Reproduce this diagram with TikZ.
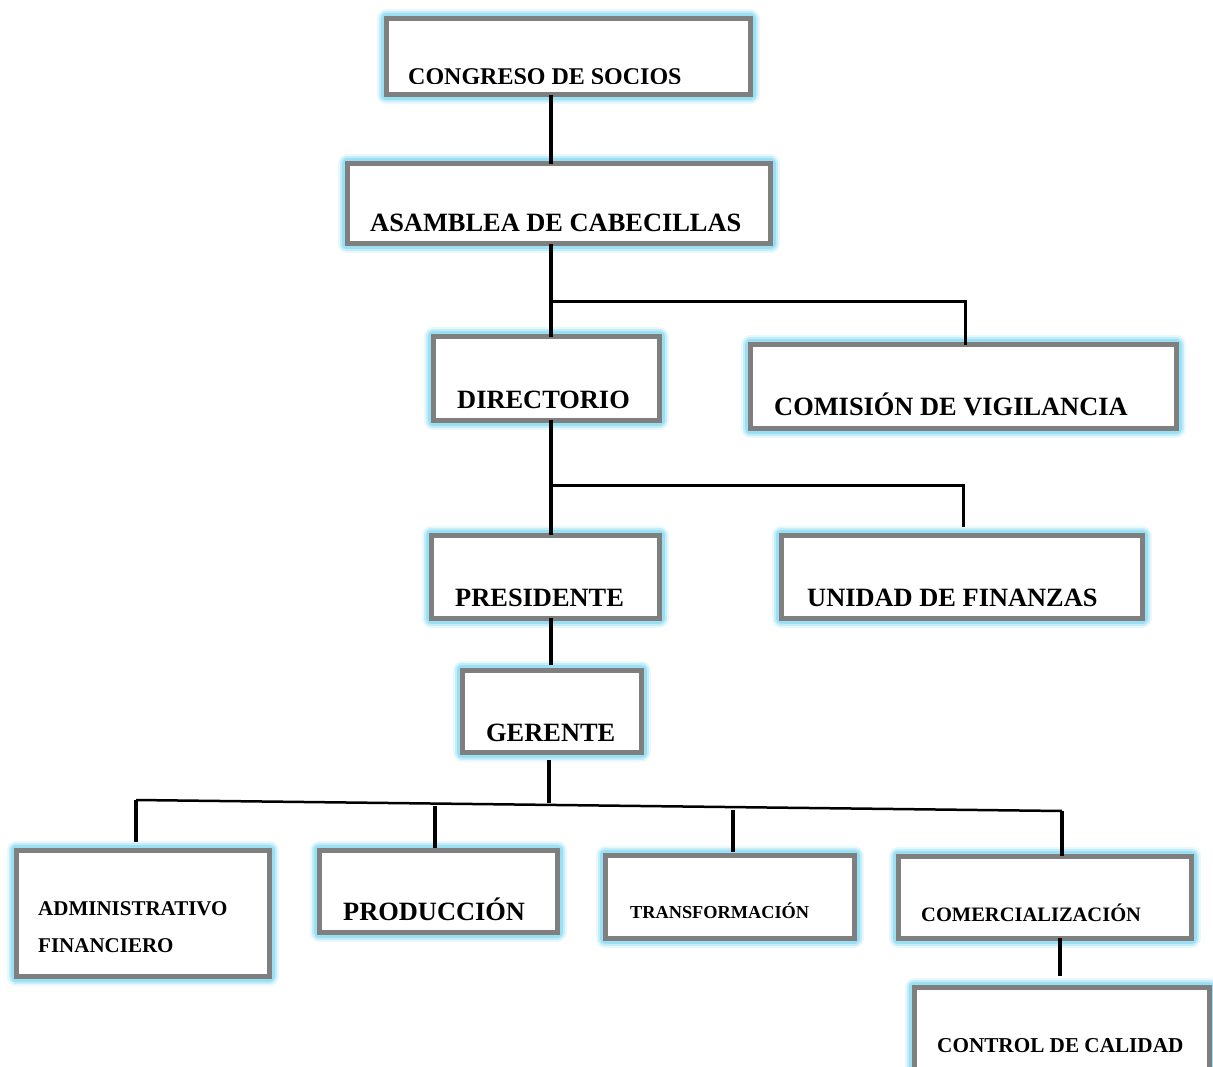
\documentclass[tikz,border=0pt]{standalone}
\usepackage{fontspec}
\setmainfont{Liberation Serif}
\usetikzlibrary{calc}
\definecolor{glowc}{HTML}{8FDDF3}
\definecolor{bordc}{HTML}{7F7F7F}
\tikzset{
  orgbox/.style={draw=bordc, line width=5pt, fill=white, rectangle, inner sep=0pt, outer sep=0pt, anchor=north west,
    preaction={draw=glowc, line width=19pt, opacity=0.2, line join=round},
    preaction={draw=glowc, line width=15pt, opacity=0.4, line join=round},
    preaction={draw=glowc, line width=11pt, opacity=0.8, line join=round}},
  lbl/.style={anchor=base west, inner sep=0pt, text=black},
  conn/.style={draw=black, line width=3.5pt},
  barline/.style={draw=black, line width=2.5pt}
}
\newcommand{\fs}[1]{\bfseries\fontsize{#1}{#1}\selectfont}
\begin{document}
\begin{tikzpicture}[x=1pt, y=-1pt]
\clip (0,0) rectangle (1213,1067);
\fill[white] (0,0) rectangle (1213,1067);
% boxes
\node[orgbox, minimum width=364pt, minimum height=76pt] (cong) at (386,19) {};
\node[orgbox, minimum width=423pt, minimum height=80pt] (asam) at (347,164) {};
\node[orgbox, minimum width=226pt, minimum height=83pt] (dir) at (433,337) {};
\node[orgbox, minimum width=426pt, minimum height=83pt] (com) at (750,345) {};
\node[orgbox, minimum width=228pt, minimum height=83pt] (pres) at (431,535) {};
\node[orgbox, minimum width=361pt, minimum height=83pt] (uni) at (781,535) {};
\node[orgbox, minimum width=179pt, minimum height=82pt] (ger) at (462,670) {};
\node[orgbox, minimum width=253pt, minimum height=126pt] (adm) at (16,850) {};
\node[orgbox, minimum width=238pt, minimum height=82pt] (prod) at (319,850) {};
\node[orgbox, minimum width=249pt, minimum height=83pt] (trans) at (605,855) {};
\node[orgbox, minimum width=293pt, minimum height=82pt] (comer) at (898,856) {};
\node[orgbox, minimum width=295pt, minimum height=95pt] (ctrl) at (914,987) {};
% labels
\begin{scope}
\clip (390,22) rectangle (746,83.5);
\node[lbl, font=\fs{24}] (cong-t) at (408,85) {CONGRESO DE SOCIOS};
\end{scope}
\node[lbl, font=\fs{26.4}] (asam-t) at (370,232) {ASAMBLEA DE CABECILLAS};
\node[lbl, font=\fs{26.4}] (dir-t) at (457,408) {DIRECTORIO};
\node[lbl, font=\fs{26.4}] (com-t) at (774,415) {COMISIÓN DE VIGILANCIA};
\node[lbl, font=\fs{26.4}] (pres-t) at (455,606) {PRESIDENTE};
\node[lbl, font=\fs{26.4}] (uni-t) at (807,606) {UNIDAD DE FINANZAS};
\node[lbl, font=\fs{26.4}] (ger-t) at (486,741) {GERENTE};
\node[lbl, font=\fs{21}] (adm-t1) at (38,915) {ADMINISTRATIVO};
\node[lbl, font=\fs{21}] (adm-t2) at (38,952) {FINANCIERO};
\node[lbl, font=\fs{26.4}] (prod-t) at (343,920) {PRODUCCIÓN};
\node[lbl, font=\fs{18.3}] (trans-t) at (630,918) {TRANSFORMACIÓN};
\node[lbl, font=\fs{20.5}] (comer-t) at (921,921) {COMERCIALIZACIÓN};
\node[lbl, font=\fs{21.2}] (ctrl-t) at (937,1052) {CONTROL DE CALIDAD};
% connectors
\coordinate (sp) at (551,0);
\draw[conn] (cong.south -| sp) -- (asam.north -| sp);
\draw[conn] (asam.south -| sp) -- (dir.north -| sp);
\coordinate (h1) at (551,302);
\coordinate (h1r) at (965,302);
\draw[conn, line width=3pt] (h1) -- (h1r) -- (com.north -| h1r);
\draw[conn] (dir.south -| sp) -- (pres.north -| sp);
\coordinate (h2) at (551,485);
\coordinate (h2r) at (963,485);
\draw[conn, line width=3pt] (h2) -- (h2r) -- ($(uni.north -| h2r)+(0,-8)$);
\draw[conn] (pres.south -| sp) -- ($(ger.north -| sp)+(0,-5)$);
\coordinate (gd) at (549,803);
\draw[conn] ($(ger.south -| gd)+(0,8)$) -- (gd);
\coordinate (bl) at (136,800);
\coordinate (br) at (1062,811);
\draw[barline] (bl) -- (br);
\draw[conn] (bl) -- ($(adm.north -| bl)+(0,-8)$);
\coordinate (d2) at (435,806);
\draw[conn] (d2) -- ($(prod.north -| d2)+(0,-2)$);
\coordinate (d3) at (733,810);
\draw[conn] (d3) -- ($(trans.north -| d3)+(0,-3)$);
\draw[conn] (br) -- (comer.north -| br);
\coordinate (d5) at (1060,0);
\draw[conn] (comer.south -| d5) -- ($(ctrl.north -| d5)+(0,-11)$);
\end{tikzpicture}
\end{document}
